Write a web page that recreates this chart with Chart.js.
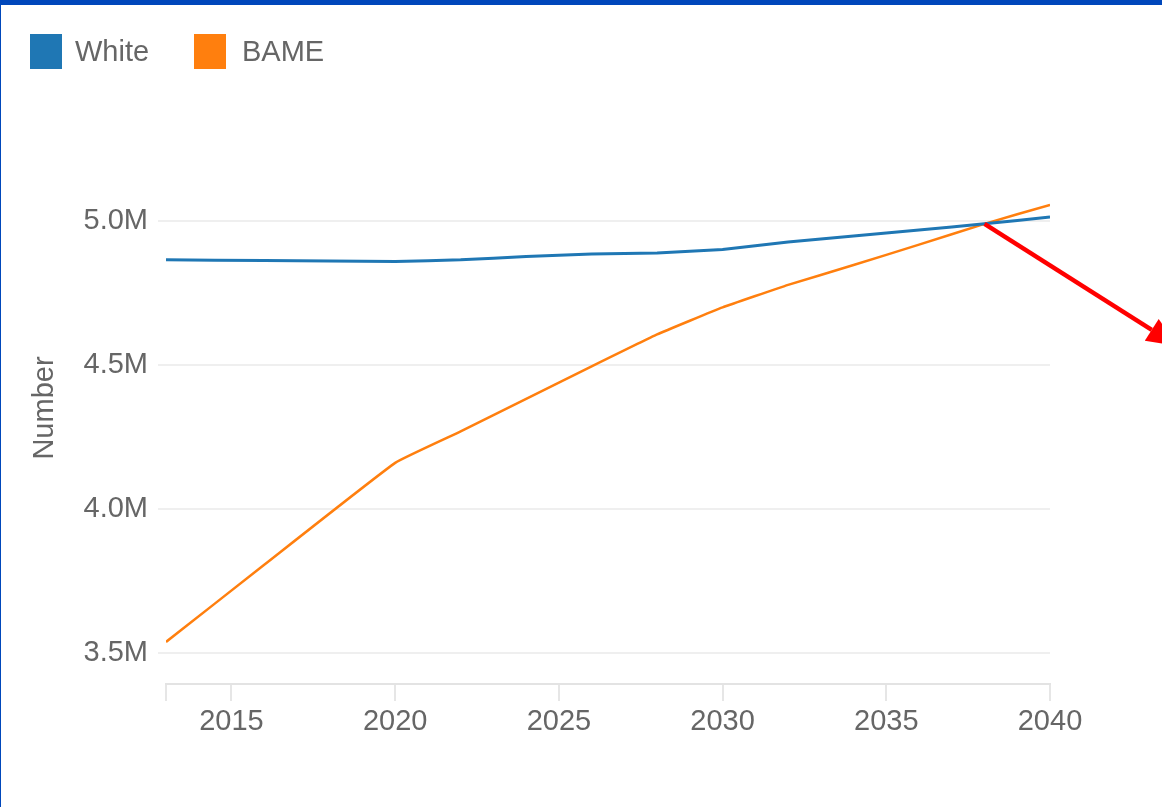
<!DOCTYPE html>
<html lang="en">
<head>
    <meta charset="UTF-8">
    <title>White vs BAME population</title>
    <script src="https://cdn.jsdelivr.net/npm/chart.js"></script>
    <style>
        html, body { margin: 0; padding: 0; background: #fff; }
        .frame { position: relative; width: 1162px; height: 807px; overflow: hidden; }
        .frame canvas { position: absolute; left: 0; top: 0; }
        .bar-top { position: absolute; left: 0; top: 0; width: 1162px; height: 5px; background: #0047bb; }
        .bar-left { position: absolute; left: 0; top: 0; width: 1px; height: 807px; background: #0047bb; }
        .legend { position: absolute; top: 34px; left: 30px; font-family: "Liberation Sans", Arial, sans-serif; font-size: 29px; color: #666; }
        .legend span.box { position: absolute; top: 0; width: 32px; height: 35px; }
        .legend span.txt { position: absolute; top: 0; line-height: 35px; white-space: nowrap; }
    </style>
</head>
<body>
    <div class="frame">
        <canvas id="chart" width="1162" height="807"></canvas>
        <div class="bar-top"></div>
        <div class="bar-left"></div>
        <div class="legend">
            <span class="box" style="left:0;background:#1f77b4"></span>
            <span class="txt" style="left:45px">White</span>
            <span class="box" style="left:164px;background:#ff7f0e"></span>
            <span class="txt" style="left:212px">BAME</span>
        </div>
    </div>

    <script>
        // values, in millions
        const years = [2013, 2016, 2020, 2022, 2024, 2026, 2028, 2030, 2032, 2034, 2036, 2038, 2040];
        const white = [4.865, 4.863, 4.859, 4.865, 4.877, 4.885, 4.889, 4.901, 4.927, 4.948, 4.969, 4.990, 5.014];
        const bame = [3.538, 3.806, 4.160, 4.269, 4.382, 4.495, 4.606, 4.700, 4.778, 4.847, 4.918, 4.990, 5.056];
        const xTicks = [2013, 2015, 2020, 2025, 2030, 2035, 2040];
        const yTicks = [3.5, 4.0, 4.5, 5.0];
        const crossing = { year: 2038, value: 4.99 };

        const font = "'Liberation Sans', Arial, sans-serif";

        // red arrow pointing out of the crossing point
        const arrowPlugin = {
            id: 'arrow',
            afterDatasetsDraw(chart) {
                const ctx = chart.ctx;
                const sx = chart.scales.x.getPixelForValue(crossing.year);
                const sy = chart.scales.y.getPixelForValue(crossing.value * 1e6);
                const ang = Math.atan2(0.634, 1);
                const len = 228;
                const tx = sx + Math.cos(ang) * len;
                const ty = sy + Math.sin(ang) * len;
                const headLen = 30, headW = 13;
                const bx = tx - Math.cos(ang) * headLen;
                const by = ty - Math.sin(ang) * headLen;
                ctx.save();
                ctx.strokeStyle = '#ff0000';
                ctx.fillStyle = '#ff0000';
                ctx.lineWidth = 4.5;
                ctx.beginPath();
                ctx.moveTo(sx, sy);
                ctx.lineTo(bx, by);
                ctx.stroke();
                ctx.beginPath();
                ctx.moveTo(tx, ty);
                ctx.lineTo(bx + Math.sin(ang) * headW, by - Math.cos(ang) * headW);
                ctx.lineTo(bx - Math.sin(ang) * headW, by + Math.cos(ang) * headW);
                ctx.closePath();
                ctx.fill();
                ctx.restore();
            }
        };

        new Chart(document.getElementById('chart'), {
            type: 'line',
            data: {
                datasets: [{
                    label: 'White',
                    data: years.map((y, i) => ({ x: y, y: white[i] * 1e6 })),
                    borderColor: '#1f77b4',
                    backgroundColor: '#1f77b4',
                    borderWidth: 3,
                    pointRadius: 0,
                    tension: 0.1
                }, {
                    label: 'BAME',
                    data: years.map((y, i) => ({ x: y, y: bame[i] * 1e6 })),
                    borderColor: '#ff7f0e',
                    backgroundColor: '#ff7f0e',
                    borderWidth: 2.5,
                    pointRadius: 0,
                    tension: 0.1
                }]
            },
            options: {
                responsive: false,
                animation: false,
                layout: { padding: { left: 24, top: 132, right: 112, bottom: 63 } },
                plugins: {
                    legend: { display: false },
                    tooltip: { enabled: false }
                },
                scales: {
                    x: {
                        type: 'linear',
                        min: 2013,
                        max: 2040,
                        afterBuildTicks: scale => { scale.ticks = xTicks.map(v => ({ value: v })); },
                        afterFit: scale => { scale.height = 60; },
                        grid: { drawOnChartArea: false, drawTicks: true, tickLength: 17, color: '#e6e6e6', lineWidth: 2 },
                        border: { display: true, color: '#e3e3e3', width: 2 },
                        ticks: {
                            padding: 4,
                            maxRotation: 0,
                            color: '#666',
                            font: { family: font, size: 29 },
                            callback: v => v === 2013 ? '' : String(v)
                        }
                    },
                    y: {
                        min: 3392000,
                        max: 5309000,
                        afterBuildTicks: scale => { scale.ticks = yTicks.map(v => ({ value: v * 1e6 })); },
                        afterFit: scale => { scale.width = 142; },
                        grid: { color: '#efefef', lineWidth: 2, drawTicks: true, tickLength: 8 },
                        border: { display: false },
                        ticks: {
                            padding: 10,
                            color: '#666',
                            font: { family: font, size: 29 },
                            callback: v => (v / 1e6).toFixed(1) + 'M'
                        },
                        title: {
                            display: true,
                            text: 'Number',
                            color: '#666',
                            font: { family: font, size: 29 },
                            padding: { top: 4, bottom: 4 }
                        }
                    }
                }
            },
            plugins: [arrowPlugin]
        });
    </script>
</body>
</html>
